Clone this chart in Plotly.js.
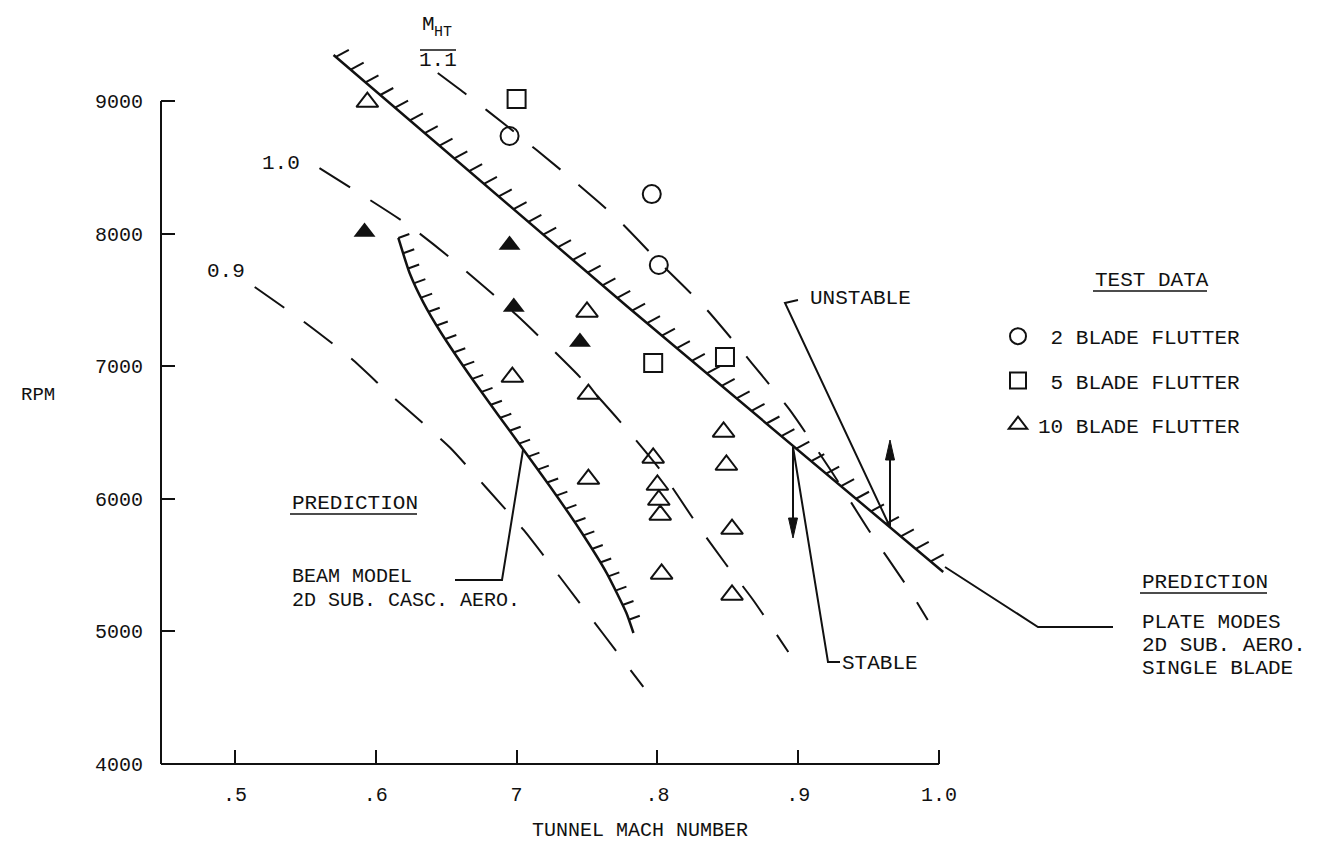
<!DOCTYPE html>
<html><head><meta charset="utf-8">
<script src="https://cdn.plot.ly/plotly-3.0.1.min.js"></script>
<style>html,body{margin:0;padding:0;background:#fff;}#chart{width:1324px;height:855px;}</style>
</head><body><div id="chart"></div>
<script>
// ---------------- data ----------------
const xTickVals = [0.5, 0.6, 0.7, 0.8, 0.9, 1.0];
const xTickText = ['.5', '.6', '7', '.8', '.9', '1.0'];
const yTickVals = [4000, 5000, 6000, 7000, 8000, 9000];
const yTickText = ['4000', '5000', '6000', '7000', '8000', '9000'];

// test data
const blade2Mach = [0.695, 0.796, 0.801];
const blade2Rpm  = [8736, 8298, 7763];
const blade5Mach = [0.700, 0.797, 0.848];
const blade5Rpm  = [9015, 7024, 7069];
const blade10Mach = [0.594, 0.697, 0.750, 0.751, 0.847, 0.797, 0.849, 0.751, 0.800, 0.801, 0.802, 0.853, 0.803, 0.853];
const blade10Rpm  = [8992, 6918, 7409, 6790, 6504, 6308, 6255, 6149, 6104, 5991, 5878, 5772, 5433, 5275];
const filledMach = [0.592, 0.695, 0.698, 0.745];
const filledRpm  = [8012, 7914, 7446, 7182];

// constant M_HT lines
const mht09Mach = [0.514, 0.552, 0.583, 0.609, 0.635, 0.653, 0.678, 0.705, 0.734, 0.761, 0.790];
const mht09Rpm  = [7597, 7311, 7054, 6798, 6556, 6383, 6089, 5765, 5365, 4988, 4581];
const mht10Mach = [0.560, 0.623, 0.653, 0.700, 0.745, 0.775, 0.802, 0.827, 0.848, 0.868, 0.893];
const mht10Rpm  = [8494, 8065, 7816, 7386, 6918, 6564, 6217, 5825, 5516, 5237, 4845];
const mht11Mach = [0.644, 0.663, 0.694, 0.734, 0.771, 0.802, 0.834, 0.867, 0.894, 0.923, 0.950, 0.978, 0.992];
const mht11Rpm  = [9211, 9060, 8804, 8457, 8117, 7778, 7439, 7024, 6670, 6217, 5765, 5327, 5086];

// predictions
const plateMach = [0.570, 0.779, 1.003];
const plateRpm  = [9347, 7446, 5448];
const beamMach = [0.616, 0.624, 0.634, 0.646, 0.669, 0.705, 0.724, 0.745, 0.764, 0.778, 0.783];
const beamRpm  = [7967, 7703, 7476, 7258, 6896, 6368, 6089, 5765, 5440, 5139, 4988];

// ---------------- layout geometry ----------------
const FONT = '"Liberation Mono", "Courier New", monospace';
const INK = '#111';
const W = 1324, H = 855;
const M = {l: 161, r: 0, t: 0, b: 91};
const plotW = W - M.l - M.r, plotH = H - M.t - M.b;
const X_PX = 1408, Y_PX = 0.1326;
const x0 = 0.5 - (235 - M.l) / X_PX;
const xRange = [x0, x0 + plotW / X_PX];
const yRange = [4000, 4000 + plotH / Y_PX];

function toPx(x, y) {
  return [M.l + (x - xRange[0]) / (xRange[1] - xRange[0]) * plotW,
          M.t + (yRange[1] - y) / (yRange[1] - yRange[0]) * plotH];
}
function toData(p, q) {
  return [xRange[0] + (p - M.l) / plotW * (xRange[1] - xRange[0]),
          yRange[1] - (q - M.t) / plotH * (yRange[1] - yRange[0])];
}
function paper(p, q) { return [(p - M.l) / plotW, (M.t + plotH - q) / plotH]; }

function hatches(xs, ys, step, offset, hx, hy) {
  const pts = xs.map((x, i) => toPx(x, ys[i]));
  const ox = [], oy = [];
  let next = offset, acc = 0;
  for (let i = 0; i < pts.length - 1; i++) {
    const [a, b] = pts[i], [c, d] = pts[i + 1];
    const len = Math.hypot(c - a, d - b);
    while (next <= acc + len + 0.01) {
      const t = (next - acc) / len;
      const p = a + t * (c - a), q = b + t * (d - b);
      const s = toData(p, q), e = toData(p + hx, q + hy);
      ox.push(s[0], e[0], null); oy.push(s[1], e[1], null);
      next += step;
    }
    acc += len;
  }
  return {x: ox, y: oy};
}

const DASH = '36px,24px';
function dashed(xs, ys) {
  return {x: xs, y: ys, mode: 'lines', type: 'scatter', showlegend: false, hoverinfo: 'skip',
          line: {color: INK, width: 2, dash: DASH, shape: 'spline', smoothing: 0.6}};
}
const plateH = hatches(plateMach, plateRpm, 19.5, 3, 13, -7);
const beamH = hatches(beamMach, beamRpm, 16, 0, 11, -4);

const traces = [
  dashed(mht09Mach, mht09Rpm),
  dashed(mht10Mach, mht10Rpm),
  dashed(mht11Mach, mht11Rpm),
  {x: plateMach, y: plateRpm, mode: 'lines', type: 'scatter', showlegend: false, hoverinfo: 'skip',
   line: {color: INK, width: 2.5}},
  {x: plateH.x, y: plateH.y, mode: 'lines', type: 'scatter', showlegend: false, hoverinfo: 'skip',
   line: {color: INK, width: 2}},
  {x: beamMach, y: beamRpm, mode: 'lines', type: 'scatter', showlegend: false, hoverinfo: 'skip',
   line: {color: INK, width: 2.5, shape: 'spline', smoothing: 0.5}},
  {x: beamH.x, y: beamH.y, mode: 'lines', type: 'scatter', showlegend: false, hoverinfo: 'skip',
   line: {color: INK, width: 2}},
  {x: filledMach, y: filledRpm, mode: 'markers', type: 'scatter', showlegend: false,
   marker: {symbol: 'triangle-up', size: 19, color: INK, line: {width: 0}}},
  {x: blade2Mach, y: blade2Rpm, mode: 'markers', type: 'scatter', name: '\u00A02 BLADE FLUTTER', legendgroup: 'a',
   marker: {symbol: 'circle-open', size: 18, color: INK, line: {width: 2}}},
  {x: blade5Mach, y: blade5Rpm, mode: 'markers', type: 'scatter', name: '\u00A05 BLADE FLUTTER', legendgroup: 'b',
   marker: {symbol: 'square-open', size: 18, color: INK, line: {width: 2}}},
  {x: blade10Mach, y: blade10Rpm, mode: 'markers', type: 'scatter', name: '10 BLADE FLUTTER', legendgroup: 'c',
   marker: {symbol: 'triangle-up-open', size: 19, color: INK, line: {width: 2}}}
];

function label(text, p, q, xanchor, size) {
  const [x, y] = paper(p, q);
  return {text: text, x: x, y: y, xref: 'paper', yref: 'paper', xanchor: xanchor || 'left',
    yanchor: 'middle', showarrow: false, font: {family: FONT, size: size || 21, color: INK}};
}
function pathShape(pts, width, fill) {
  const d = pts.map((pt, i) => { const [x, y] = paper(pt[0], pt[1]); return (i ? 'L' : 'M') + x + ',' + y; }).join(' ') + (fill ? ' Z' : '');
  const s = {type: 'path', xref: 'paper', yref: 'paper', path: d, line: {color: INK, width: width || 2}};
  if (fill) s.fillcolor = INK;
  return s;
}
// arrow: stem from tail to head plus a narrow filled head
function arrowShapes(p, qHead, qTail) {
  const dir = qTail > qHead ? 1 : -1;
  const base = qHead + dir * 20;
  return [pathShape([[p, qTail], [p, base]], 2),
          pathShape([[p - 4.5, base], [p, qHead], [p + 4.5, base]], 1, true)];
}

const annotations = [
  label('M', 428, 24, 'center'),
  label('HT', 443, 33, 'center', 15),
  label('1.1', 438, 61, 'center'),
  label('1.0', 281, 163, 'center'),
  label('0.9', 226, 271, 'center'),
  label('PREDICTION', 290, 503),
  label('BEAM MODEL', 290, 576, 'left', 20),
  label('2D SUB. CASC. AERO.', 290, 600, 'left', 20),
  label('UNSTABLE', 808, 298),
  label('STABLE', 840, 663),
  label('PREDICTION', 1140, 582),
  label('PLATE MODES', 1140, 622),
  label('2D SUB. AERO.', 1140, 645),
  label('SINGLE BLADE', 1140, 668),
  label('TEST DATA', 1093, 280),
  label('RPM', 38, 395, 'center', 19),
  label('TUNNEL MACH NUMBER', 640, 830, 'center', 20)
];

const shapes = [
  pathShape([[M.l, 764], [939, 764]], 2),
  pathShape([[M.l, 101], [M.l, 764]], 2),
  pathShape([[420, 50], [456, 50]], 1.5),
  pathShape([[290, 514], [417, 514]], 1.3),
  pathShape([[1140, 593], [1267, 593]], 1.3),
  pathShape([[1093, 291], [1207, 291]], 1.3),
  pathShape([[455, 580], [502, 580], [523, 450]], 2),
  pathShape([[945, 567], [1038, 627], [1113, 627]], 2),
  pathShape([[798, 300], [785, 303], [890, 527]], 2),
  pathShape([[793, 447], [828, 662], [840, 662]], 2)
].concat(arrowShapes(890, 440, 527), arrowShapes(793, 538, 447));

const layout = {
  width: W, height: H,
  margin: M,
  paper_bgcolor: '#fff', plot_bgcolor: '#fff',
  font: {family: FONT, color: INK, size: 20},
  showlegend: true,
  legend: {x: paper(998, 0)[0], y: paper(0, 316)[1], xanchor: 'left', yanchor: 'top',
           font: {family: FONT, size: 21, color: INK}, tracegroupgap: 14, bgcolor: 'rgba(0,0,0,0)'},
  xaxis: {range: xRange, showgrid: false, zeroline: false, showline: false, automargin: false,
          tickmode: 'array', tickvals: xTickVals, ticktext: xTickText,
          ticks: 'inside', ticklen: 14, tickwidth: 2, tickcolor: INK, ticklabelstandoff: 16,
          tickfont: {family: FONT, size: 20, color: INK}},
  yaxis: {range: yRange, showgrid: false, zeroline: false, showline: false, automargin: false,
          tickmode: 'array', tickvals: yTickVals, ticktext: yTickText,
          ticks: 'inside', ticklen: 14, tickwidth: 2, tickcolor: INK, ticklabelstandoff: 17,
          tickfont: {family: FONT, size: 20, color: INK}},
  annotations: annotations,
  shapes: shapes
};

Plotly.newPlot('chart', traces, layout, {staticPlot: true, displayModeBar: false});
</script>
</body></html>
